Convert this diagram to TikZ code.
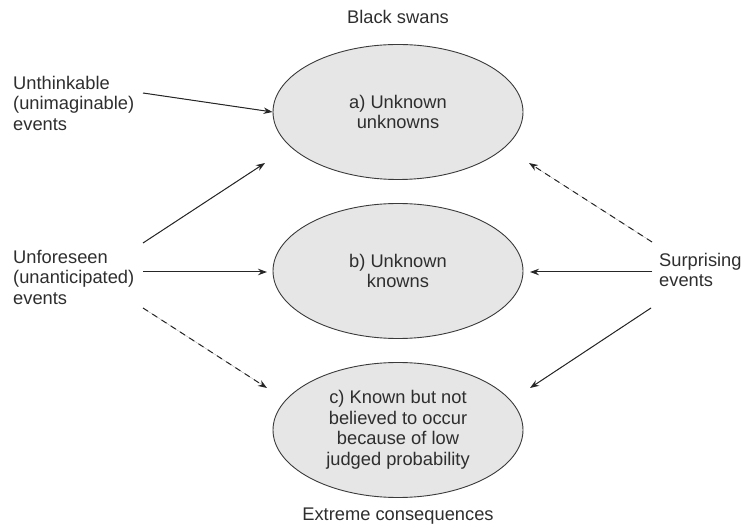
\documentclass[tikz,border=0pt]{standalone}
\usepackage{fontspec}
\setmainfont{Liberation Sans}
\usetikzlibrary{shapes.geometric,arrows.meta}
\definecolor{txtc}{HTML}{2E2E2E}
\definecolor{efill}{HTML}{E6E6E6}
\definecolor{edgec}{HTML}{3A3A3A}
\newcommand\diagfont{\fontsize{18.3}{20.5}\selectfont}
\begin{document}
\begin{tikzpicture}[x=1pt,y=-1pt,
  oval/.style={ellipse, draw=edgec, fill=efill, line width=0.9pt, minimum width=250pt, minimum height=135pt, inner sep=0pt, align=center, text=txtc, font=\diagfont},
  lbl/.style={text=txtc, font=\diagfont, inner sep=0pt, align=left},
  arr/.style={-{Stealth[length=9pt,width=6.5pt]}, line width=1pt, draw=black!85, fill=black!85},
  darr/.style={arr, dash pattern=on 6pt off 5pt}]
\useasboundingbox (0,0) rectangle (744,526);
\node[oval] (a) at (398,112) {a) Unknown\\unknowns};
\node[oval] (b) at (398,271) {b) Unknown\\knowns};
\node[oval] (c) at (398,430) {c) Known but not\\believed to occur\\because of low\\judged probability};
\node[lbl, align=center] (bs) at (398,17) {Black swans};
\node[lbl, align=center] (ec) at (398,516) {Extreme consequences};
\node[lbl, anchor=west] (unth) at (13,103) {Unthinkable\\(unimaginable)\\events};
\node[lbl, anchor=west] (unf) at (13,277) {Unforeseen\\(unanticipated)\\events};
\node[lbl, anchor=west] (sur) at (659,270) {Surprising\\events};
% free ends
\coordinate (s1) at (143,93);
\coordinate (s2) at (143,243);
\coordinate (s3) at (143,272);
\coordinate (s4) at (143,308);
\coordinate (t2) at (265,163);
\coordinate (t3) at (267,272);
\coordinate (t4) at (267,388);
\coordinate (r1) at (652,242);
\coordinate (r2) at (652,272);
\coordinate (r3) at (651,308);
\coordinate (t5) at (529,163);
\coordinate (t6) at (530,272);
\coordinate (t7) at (530,388);
\draw[arr] (s1) -- (a.west);
\draw[arr] (s2) -- (t2);
\draw[arr] (s3) -- (t3);
\draw[darr] (s4) -- (t4);
\draw[darr] (r1) -- (t5);
\draw[arr] (r2) -- (t6);
\draw[arr] (r3) -- (t7);
\end{tikzpicture}
\end{document}
